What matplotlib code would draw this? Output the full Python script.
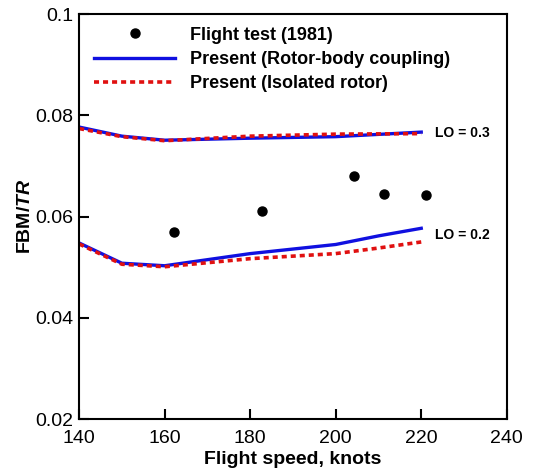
import numpy as np
import matplotlib.pyplot as plt

plt.rcParams['font.family'] = ['Liberation Sans', 'DejaVu Sans']
plt.rcParams['mathtext.fontset'] = 'custom'
plt.rcParams['mathtext.it'] = 'Liberation Sans:italic:bold'
plt.rcParams['mathtext.rm'] = 'Liberation Sans:bold'

# flight test data
test_speed = [162.2, 182.8, 204.3, 211.3, 221.2]
test_fbm = [0.0569, 0.0611, 0.0680, 0.0644, 0.0642]

# LO = 0.3
speed_hi = [140, 150, 160, 180, 200, 220]
coupled_hi = [0.0777, 0.0759, 0.0751, 0.0755, 0.0758, 0.0767]
isolated_hi = [0.0774, 0.0758, 0.0750, 0.0759, 0.0763, 0.0764]

# LO = 0.2
speed_lo = [140, 150, 160, 180, 200, 210, 220]
coupled_lo = [0.0548, 0.0508, 0.0503, 0.0527, 0.0545, 0.0562, 0.0577]
isolated_lo = [0.0546, 0.0506, 0.0501, 0.0517, 0.0527, 0.0538, 0.0550]

fig = plt.figure(figsize=(5.42, 4.72), dpi=100)
ax = fig.add_axes([0.146, 0.112, 0.789, 0.858])

ax.plot(test_speed, test_fbm, 'o', color='black', ms=6.5, label='Flight test (1981)')
ax.plot(speed_hi, coupled_hi, color='#1010e0', lw=2.4, label='Present (Rotor-body coupling)')
ax.plot(speed_hi, isolated_hi, color='#e01010', lw=2.6, ls=(0, (1.4, 1.1)), label='Present (Isolated rotor)')
ax.plot(speed_lo, coupled_lo, color='#1010e0', lw=2.4)
ax.plot(speed_lo, isolated_lo, color='#e01010', lw=2.6, ls=(0, (1.4, 1.1)))

ax.text(223.2, 0.0766, 'LO = 0.3', fontsize=10, fontweight='bold', va='center')
ax.text(223.2, 0.0563, 'LO = 0.2', fontsize=10, fontweight='bold', va='center')

ax.set_xlim(140, 240)
ax.set_ylim(0.02, 0.1)
ax.set_xticks([140, 160, 180, 200, 220, 240])
ax.set_yticks([0.02, 0.04, 0.06, 0.08, 0.1])
ax.set_yticklabels(['0.02', '0.04', '0.06', '0.08', '0.1'])
ax.tick_params(direction='in', length=7, width=1.5, labelsize=14)
ax.tick_params(axis='x', pad=8)
ax.tick_params(axis='y', pad=4)
for s in ax.spines.values():
    s.set_linewidth(1.5)

ax.set_xlabel('Flight speed, knots', fontsize=14, fontweight='bold', labelpad=3)
ax.set_ylabel(r'FBM/$\mathit{TR}$', fontsize=14, fontweight='bold', labelpad=1)

ax.legend(loc='upper left', bbox_to_anchor=(0.005, 1.0), frameon=False,
          prop={'weight': 'bold', 'size': 13}, handlelength=4.5,
          handletextpad=0.8, labelspacing=0.4, borderpad=0.2)

plt.savefig('out.png', dpi=100)
